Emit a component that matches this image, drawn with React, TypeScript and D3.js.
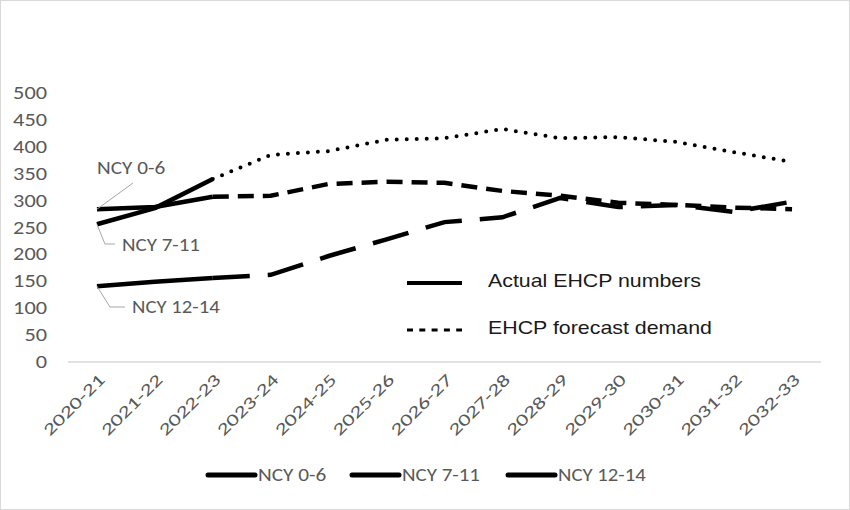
import React from "react";
import * as d3 from "d3";

const categories = ["2020-21","2021-22","2022-23","2023-24","2024-25","2025-26","2026-27","2027-28","2028-29","2029-30","2030-31","2031-32","2032-33"];
const ncy06 = [284, 288, 307, 309, 331, 335, 333, 318, 309, 296, 292, 287, 284];
const ncy711 = [256, 286, 340, 385, 392, 413, 416, 433, 416, 418, 409, 390, 372];
const ncy1214 = [141, 149, 156, 162, 197, 228, 260, 269, 305, 288, 292, 279, 298];
const lastActualIndex = 2;
const yTicks = [0, 50, 100, 150, 200, 250, 300, 350, 400, 450, 500];
const seriesNames = ["NCY 0-6", "NCY 7-11", "NCY 12-14"];
const innerLegend = ["Actual EHCP numbers", "EHCP forecast demand"];

const W = 850, H = 510;
const tickFont = "Carlito, Lato, 'Open Sans', sans-serif";
const arialFont = "'Liberation Sans', Arial, sans-serif";
const grey = "#595959";

export default function App() {
  const x = d3.scaleBand<string>().domain(categories).range([68, 821]);
  const cx = (c: string) => (x(c) as number) + x.bandwidth() / 2;
  const y = d3.scaleLinear().domain([0, 500]).range([362, 93]);

  const mk = (vals: number[]) => {
    const aLine = d3.line<number>().defined((_, i) => i <= lastActualIndex).x((_, i) => cx(categories[i])).y(d => y(d));
    const fLine = d3.line<number>().defined((_, i) => i >= lastActualIndex).x((_, i) => cx(categories[i])).y(d => y(d));
    return { actual: aLine(vals) as string, forecast: fLine(vals) as string };
  };
  const s06 = mk(ncy06), s711 = mk(ncy711), s1214 = mk(ncy1214);
  const x0 = cx(categories[0]);

  const legendItems = [
    { name: seriesNames[0], lx: 208 },
    { name: seriesNames[1], lx: 352 },
    { name: seriesNames[2], lx: 508 },
  ];
  const annoChar = 9.75;

  return (
    <svg width={W} height={H} style={{ position: "absolute", left: 0, top: 0, background: "#fff" }}>
      <rect x={0.5} y={0.5} width={W - 1} height={H - 1} fill="#fff" stroke="#d9d9d9" />
      <line x1={68} x2={821} y1={y(0)} y2={y(0)} stroke="#d9d9d9" strokeWidth={1.5} />
      {yTicks.map(t => (
        <text key={t} x={47} y={y(t)} textAnchor="end" dominantBaseline="central" fontSize={18} fill={grey} fontFamily={tickFont}
          textLength={String(t).length * 11.3} lengthAdjust="spacingAndGlyphs">{t}</text>
      ))}
      {categories.map(c => (
        <text key={c} transform={`translate(${cx(c) + 5},${377}) rotate(-45)`} textAnchor="end" dominantBaseline="central" fontSize={17} fill={grey} fontFamily={tickFont}
          textLength={79} lengthAdjust="spacingAndGlyphs">{c}</text>
      ))}
      <g fill="none" stroke="#000">
        <path d={s06.forecast} strokeWidth={4.5} strokeDasharray="16 9" />
        <path d={s711.forecast} strokeWidth={4} strokeDasharray="0 10" strokeLinecap="round" />
        <path d={s1214.forecast} strokeWidth={4.5} strokeDasharray="37 18" />
        <path d={s06.actual} strokeWidth={4.5} strokeLinejoin="round" />
        <path d={s711.actual} strokeWidth={4.5} strokeLinejoin="round" />
        <path d={s1214.actual} strokeWidth={4.5} strokeLinejoin="round" />
      </g>
      <g stroke="#a6a6a6" strokeWidth={1} fill="none">
        <polyline points={`${x0},${y(ncy06[0])} ${x0 + 36},${183}`} />
        <polyline points={`${x0},${y(ncy711[0])} ${x0 + 8},${244} ${x0 + 18},${244}`} />
        <polyline points={`${x0},${y(ncy1214[0])} ${x0 + 13},${307} ${x0 + 28},${307}`} />
      </g>
      <text x={97} y={168} dominantBaseline="central" fontSize={18} fill={grey} fontFamily={tickFont} textLength={seriesNames[0].length * annoChar} lengthAdjust="spacingAndGlyphs">{seriesNames[0]}</text>
      <text x={122} y={245} dominantBaseline="central" fontSize={18} fill={grey} fontFamily={tickFont} textLength={seriesNames[1].length * annoChar} lengthAdjust="spacingAndGlyphs">{seriesNames[1]}</text>
      <text x={132} y={307} dominantBaseline="central" fontSize={18} fill={grey} fontFamily={tickFont} textLength={seriesNames[2].length * annoChar} lengthAdjust="spacingAndGlyphs">{seriesNames[2]}</text>
      <line x1={407} x2={462} y1={283} y2={283} stroke="#000" strokeWidth={4} />
      <text x={488} y={280} dominantBaseline="central" fontSize={18.5} fill="#1a1a1a" fontFamily={arialFont} textLength={213} lengthAdjust="spacingAndGlyphs">{innerLegend[0]}</text>
      <line x1={407} x2={462} y1={330} y2={330} stroke="#000" strokeWidth={3} strokeDasharray="6 6.3" />
      <text x={488} y={327} dominantBaseline="central" fontSize={18.5} fill="#1a1a1a" fontFamily={arialFont} textLength={224} lengthAdjust="spacingAndGlyphs">{innerLegend[1]}</text>
      {legendItems.map(it => (
        <g key={it.name}>
          <line x1={it.lx} x2={it.lx + 47} y1={475} y2={475} stroke="#000" strokeWidth={5} strokeLinecap="round" />
          <text x={it.lx + 50} y={475} dominantBaseline="central" fontSize={18} fill={grey} fontFamily={tickFont}
            textLength={it.name.length * annoChar} lengthAdjust="spacingAndGlyphs">{it.name}</text>
        </g>
      ))}
    </svg>
  );
}
